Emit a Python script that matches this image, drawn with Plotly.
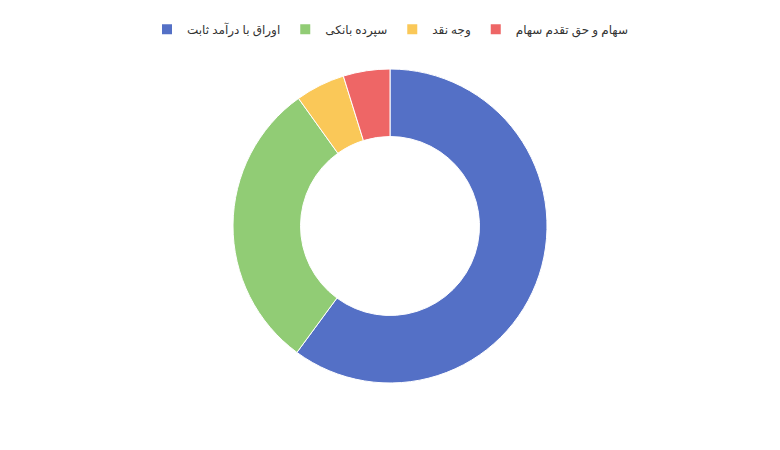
import plotly.graph_objects as go

labels = ["اوراق با درآمد ثابت", "سپرده بانکی", "وجه نقد", "سهام و حق تقدم سهام"]
values = [60.1, 30.0, 5.1, 4.8]
colors = ["#5470c6", "#91cc75", "#fac858", "#ee6666"]

fig = go.Figure()
fig.add_trace(go.Pie(
    labels=labels, values=values, hole=0.57, sort=False,
    direction="clockwise", rotation=0,
    marker=dict(colors=colors, line=dict(color="white", width=1)),
    textinfo="none", hoverinfo="label+percent",
))
fig.update_layout(
    width=780, height=450,
    margin=dict(l=0, r=16, t=61, b=75),
    paper_bgcolor="white",
    font=dict(family="Noto Sans, DejaVu Sans", size=12, color="#333"),
    legend=dict(orientation="h", x=0.5, xanchor="center", y=0.985, yanchor="top",
                yref="container", xref="paper", itemsizing="constant"),
)
fig.write_html("out.html")
